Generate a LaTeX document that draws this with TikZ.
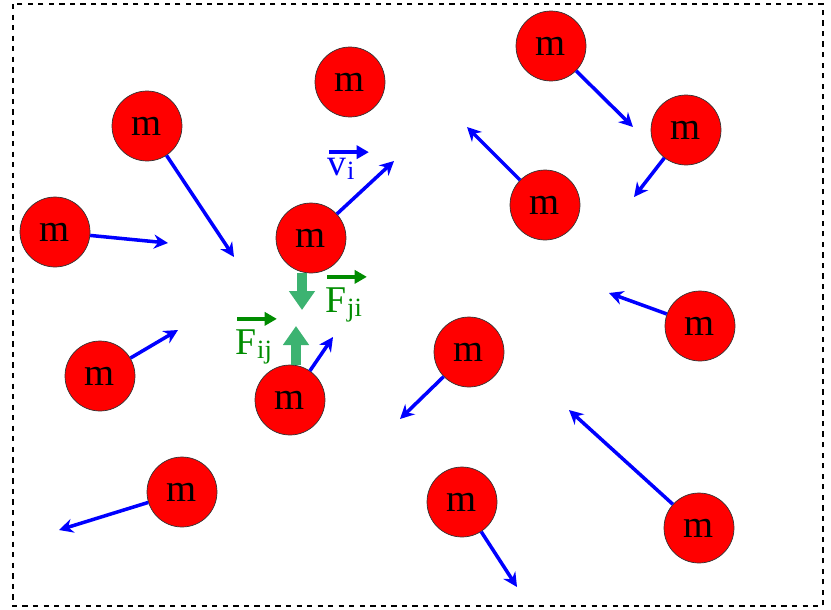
\documentclass[tikz,border=0pt]{standalone}
\usepackage{fontspec}
\setmainfont{Liberation Serif}
\usetikzlibrary{arrows.meta}

\definecolor{ballred}{RGB}{255,0,0}
\definecolor{forcegreen}{RGB}{60,179,113}
\definecolor{labelgreen}{RGB}{0,140,0}

% vector symbol: colour, arrow height, symbol, subscript
\newcommand{\vecsym}[4]{%
  \rlap{\raisebox{#2}{\tikz[x=1pt,y=1pt,baseline=0pt]\draw[#1,line width=2.3pt,-{Triangle[width=7.5pt,length=7pt]}] (0,0) -- (22.5,0);}}%
  #3\kern0.5pt{\fontsize{15}{15}\selectfont\raisebox{-2.5pt}{#4}}}

\begin{document}
\begin{tikzpicture}[
  x=0.02cm, y=-0.02cm,
  mass/.style={circle, draw=black!80, fill=ballred, minimum size=1.4cm, inner sep=0pt, font=\fontsize{22}{26}\selectfont},
  vel/.style={draw=blue, line width=2pt, -{Stealth[width=8pt,length=8pt]}},
  force/.style={draw=forcegreen, line width=0.19cm, -{Triangle[width=0.5cm,length=0.38cm]}},
  lbl/.style={font=\fontsize{21.5}{25}\selectfont, inner sep=0pt, anchor=base west}
]
\useasboundingbox (0,0) rectangle (831,609);
\draw[dashed, line width=0.6pt] (13,4) rectangle (823,606);

\node[mass] (m1) at (350,82) {m};
\node[mass] (m2) at (551,46) {m};
\node[mass] (m3) at (686,130) {m};
\node[mass] (m4) at (147,126) {m};
\node[mass] (m5) at (545,205) {m};
\node[mass] (m6) at (55,232) {m};
\node[mass] (mi) at (311,238) {m};
\node[mass] (m8) at (700,326) {m};
\node[mass] (m9) at (100,376) {m};
\node[mass] (m10) at (469,352) {m};
\node[mass] (mj) at (290,400) {m};
\node[mass] (m12) at (182,492) {m};
\node[mass] (m13) at (462,502) {m};
\node[mass] (m14) at (699,528) {m};

% velocity tips
\coordinate (v2) at (633,127);
\coordinate (v3) at (634,197);
\coordinate (v4) at (234,257);
\coordinate (v5) at (467,127);
\coordinate (v6) at (168,243);
\coordinate (vi) at (394,161);
\coordinate (v8) at (609,293);
\coordinate (v9) at (178,330);
\coordinate (v10) at (400,419);
\coordinate (vj) at (333,337);
\coordinate (v12) at (59,530);
\coordinate (v13) at (517,587);
\coordinate (v14) at (569,410);

\draw[vel] (m2) -- (v2);
\draw[vel] (m3) -- (v3);
\draw[vel] (m4) -- (v4);
\draw[vel] (m5) -- (v5);
\draw[vel] (m6) -- (v6);
\draw[vel] (mi) -- (vi);
\draw[vel] (m8) -- (v8);
\draw[vel] (m9) -- (v9);
\draw[vel] (m10) -- (v10);
\draw[vel] (mj) -- (vj);
\draw[vel] (m12) -- (v12);
\draw[vel] (m13) -- (v13);
\draw[vel] (m14) -- (v14);

% forces between i and j
\coordinate (fji) at (302,310);
\coordinate (fij) at (296,326);
\draw[force] (mi.south -| fji) -- (fji);
\draw[force] (mj.north -| fij) -- (fij);

\node[lbl, text=blue] (lvi) at (327,175) {\vecsym{blue}{13pt}{v}{i}};
\node[lbl, text=labelgreen] (lfji) at (325,312) {\vecsym{labelgreen}{20pt}{F}{ji}};
\node[lbl, text=labelgreen] (lfij) at (235,354) {\vecsym{labelgreen}{20pt}{F}{ij}};
\end{tikzpicture}
\end{document}
